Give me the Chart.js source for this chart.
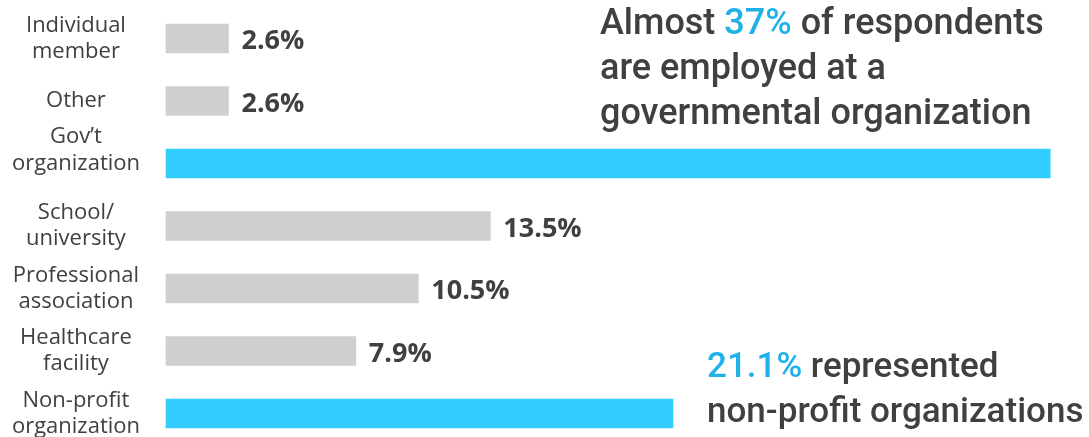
<!DOCTYPE html>
<html>
<head>
<meta charset="utf-8">
<script src="https://cdn.jsdelivr.net/npm/chart.js@4"></script>
<style>
  html, body { margin: 0; padding: 0; background: #fff; }
  #wrap { width: 1089px; height: 437px; position: relative; }
</style>
</head>
<body>
<div id="wrap"><canvas id="org_chart"></canvas></div>
<script>
// categories (multi-line labels), top to bottom
const categories = [
    ['Individual', 'member'],
    ['Other'],
    ['Gov’t', 'organization', ''],
    ['School/', 'university'],
    ['Professional', 'association'],
    ['Healthcare', 'facility'],
    ['Non-profit', 'organization']
];
const shares = [2.6, 2.6, 36.8, 13.5, 10.5, 7.9, 21.1];
const highlighted = [false, false, true, false, false, false, true];

const GREY = '#d0cece';
const BLUE = '#33ccff';
const TEXT = '#404040';
const ACCENT = '#1fb1e8';

// callout texts, each line is a list of [text, color] pieces
const callouts = [
    { x: 600, y: 34, size: 36, lines: [
        [['Almost ', TEXT], ['37%', ACCENT], [' of respondents', TEXT]],
        [['are employed at a', TEXT]],
        [['governmental organization', TEXT]]
    ]},
    { x: 707, y: 377, size: 35, lines: [
        [['21.1%', ACCENT], [' represented', TEXT]],
        [['non-profit organizations', TEXT]]
    ]}
];

// value labels only on the grey bars; highlighted ones are covered by callouts
const valueLabels = {
    id: 'valueLabels',
    afterDatasetsDraw(chart) {
        const c = chart.ctx;
        const meta = chart.getDatasetMeta(0);
        c.save();
        c.font = 'bold 27px "Open Sans"';
        c.fillStyle = TEXT;
        c.textBaseline = 'middle';
        meta.data.forEach((bar, i) => {
            if (highlighted[i]) return;
            c.fillText(shares[i].toFixed(1) + '%', bar.x + 13, bar.y + 3);
        });
        c.restore();
    }
};

const calloutText = {
    id: 'calloutText',
    afterDraw(chart) {
        const c = chart.ctx;
        c.save();
        c.textBaseline = 'alphabetic';
        callouts.forEach(co => {
            c.font = '500 ' + co.size + 'px Roboto';
            co.lines.forEach((line, li) => {
                let x = co.x;
                line.forEach(([t, col]) => {
                    c.fillStyle = col;
                    c.fillText(t, x, co.y + li * 45);
                    x += c.measureText(t).width;
                });
            });
        });
        c.restore();
    }
};

const ctx = document.getElementById('org_chart');

const orgChart = new Chart(ctx, {
    type: 'bar',
    data: {
        labels: categories,
        datasets: [{
            data: shares,
            backgroundColor: highlighted.map(h => h ? BLUE : GREY),
            borderWidth: 0,
            barThickness: 29,
            clip: false
        }]
    },
    options: {
        indexAxis: 'y',
        responsive: true,
        maintainAspectRatio: false,
        animation: false,
        layout: { padding: { top: 38.5, bottom: 23.5, left: 0, right: 10 } },
        plugins: {
            legend: { display: false },
            tooltip: { enabled: false }
        },
        scales: {
            x: {
                display: false,
                min: 0,
                max: 38
            },
            y: {
                offset: false,
                grid: { display: false },
                border: { display: false },
                ticks: {
                    autoSkip: false,
                    crossAlign: 'center',
                    padding: 18,
                    color: TEXT,
                    font: { family: '"Open Sans"', size: 22, lineHeight: 1.2 }
                },
                afterFit(scale) {
                    scale.width = 166;
                    scale.paddingTop = 0;
                    scale.paddingBottom = 0;
                }
            }
        }
    },
    plugins: [valueLabels, calloutText]
});
</script>
</body>
</html>
